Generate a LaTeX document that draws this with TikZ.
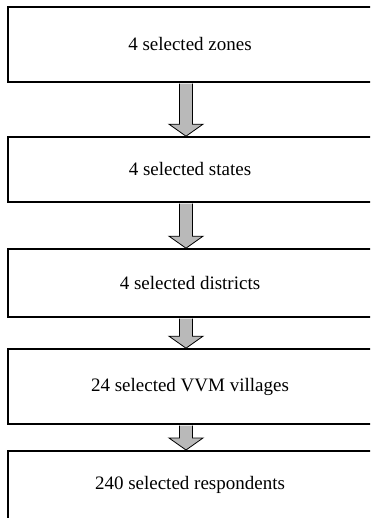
\documentclass[tikz,border=0pt]{standalone}
\usepackage{fontspec}
\setmainfont{Liberation Serif}
\usetikzlibrary{calc}
\tikzstyle{stage}=[rectangle,draw=black,line width=1.6pt,minimum width=376pt,inner sep=0pt,execute at begin node=\hspace*{-12pt},font=\fontsize{19}{23}\selectfont]
\tikzstyle{flow}=[draw=black,fill=gray!55,line width=0.8pt,line join=miter]

\begin{document}
\begin{tikzpicture}[x=1pt,y=-1pt]
\def \shaft {6.5};
\def \head {17};
\def \hh {12};

\useasboundingbox (0,0) rectangle (370,518);
\clip (0,0) rectangle (370,518);

\coordinate (axis) at (186,0);

\node[stage,minimum height=75pt] (zones) at (196,44.5) {4 selected zones};
\node[stage,minimum height=65pt] (states) at (196,169.5) {4 selected states};
\node[stage,minimum height=68pt] (districts) at (196,283) {4 selected districts};
\node[stage,minimum height=75pt] (villages) at (196,386.5) {24 selected VVM villages};
\node[stage,minimum height=76pt,text depth=12pt,anchor=north] (resp) at (196,450) {240 selected respondents};

\foreach \a/\b in {zones/states,states/districts,districts/villages,villages/resp} {
	\draw[flow] ($(\a.south -| axis)+(-\shaft,0.8)$) -- ($(\b.north -| axis)+(-\shaft,-\hh)$)
	-- ++(\shaft-\head,0) -- (\b.north -| axis) -- ++(\head,-\hh) -- ++(\shaft-\head,0)
	-- ($(\a.south -| axis)+(\shaft,0.8)$);
};

\end{tikzpicture}
\end{document}
